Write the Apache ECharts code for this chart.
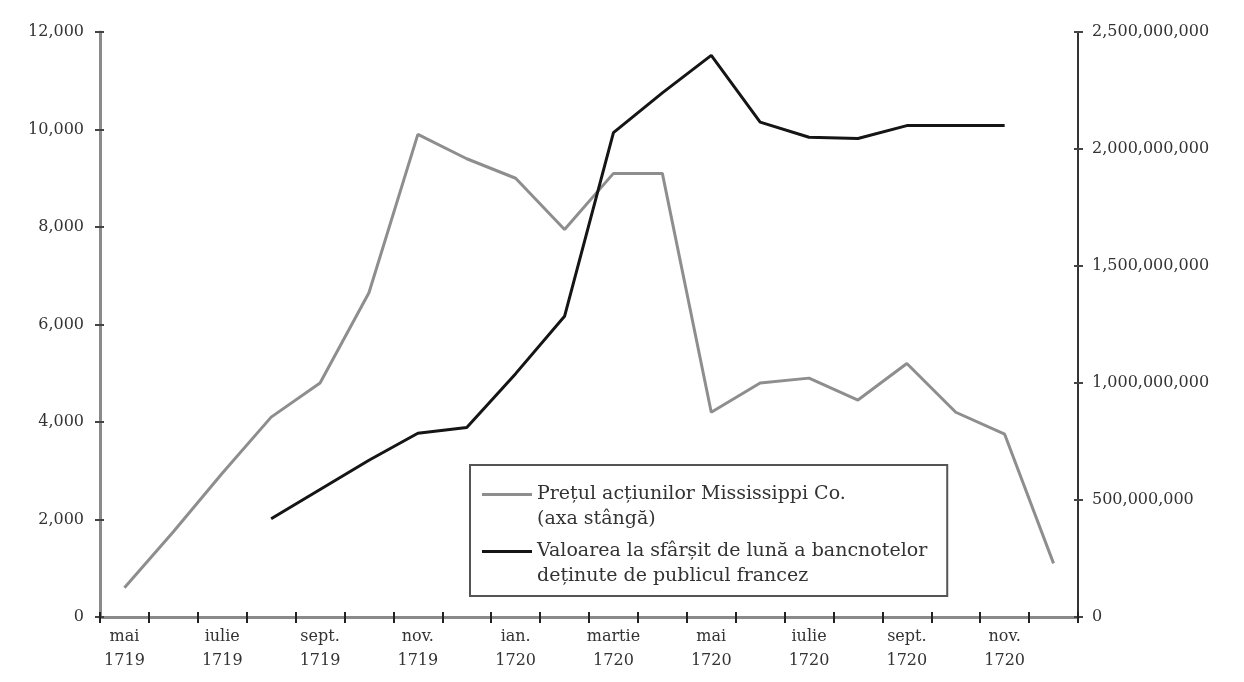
<!DOCTYPE html>
<html>
<head>
<meta charset="utf-8">
<script src="https://cdn.jsdelivr.net/npm/echarts@6/dist/echarts.min.js"></script>
<style>
html,body{margin:0;padding:0;background:#fff;}
#chart{width:1244px;height:682px;}
</style>
</head>
<body>
<div id="chart"></div>
<script>
// Categories: months May 1719 – Dec 1720
var months = ["mai\n1719","iunie\n1719","iulie\n1719","aug.\n1719","sept.\n1719","oct.\n1719","nov.\n1719","dec.\n1719",
              "ian.\n1720","feb.\n1720","martie\n1720","apr.\n1720","mai\n1720","iunie\n1720","iulie\n1720","aug.\n1720",
              "sept.\n1720","oct.\n1720","nov.\n1720","dec.\n1720"];
// Share price of Mississippi Co. (left axis, livres)
var sharePrice = [600,1750,2950,4100,4800,6650,9900,9400,9000,7950,9100,9100,4200,4800,4900,4450,5200,4200,3750,1100];
// Month-end value of banknotes held by the French public (right axis, millions of livres)
var banknotes = [null,null,null,420,545,670,785,810,1040,1285,2070,2240,2400,2115,2050,2045,2100,2100,2100,null];
var seriesNames = ["Prețul acțiunilor Mississippi Co.\n(axa stângă)",
                   "Valoarea la sfârșit de lună a bancnotelor\ndeținute de publicul francez"];
var leftAxis = {min:0, max:12000, interval:2000};
var rightAxis = {min:0, max:2500, interval:500};

var FONT = "'DejaVu Serif','Liberation Serif',serif";
var fmtLeft = function(v){ return Number(v).toLocaleString('en-US'); };
var fmtRight = function(v){ return (v*1e6).toLocaleString('en-US'); };

var chart = echarts.init(document.getElementById('chart'), null, {renderer:'canvas'});
var iconPath = 'path://M0,0h0.05v0.05h-0.05z M0,11h50v3h-50z M49.95,49.95h0.05v0.05h-0.05z';

chart.setOption({
  backgroundColor:'#fff',
  animation:false,
  grid:{left:100, right:166, top:32, bottom:65, containLabel:false},
  legend:{
    orient:'vertical', left:470, top:465,
    padding:[17,20,7,12],
    borderColor:'#555', borderWidth:2, backgroundColor:'#fff',
    itemWidth:50, itemHeight:50, itemGap:7,
    icon:iconPath,
    itemStyle:{borderWidth:0},
    textStyle:{fontFamily:FONT, fontSize:19, lineHeight:25, color:'#333'},
    data:seriesNames
  },
  xAxis:[
    {type:'category', data:months, position:'bottom', boundaryGap:true,
     axisLine:{show:true, lineStyle:{color:'#8a8a8a', width:3}},
     axisTick:{show:true, inside:false, length:6, interval:0, lineStyle:{color:'#222', width:2}},
     axisLabel:{interval:1, margin:8, fontFamily:FONT, fontSize:16, lineHeight:24, color:'#333'},
     splitLine:{show:false}},
    {type:'category', data:months, position:'bottom', boundaryGap:true,
     axisLine:{show:false},
     axisTick:{show:true, inside:true, length:5, interval:0, lineStyle:{color:'#222', width:2}},
     axisLabel:{show:false}, splitLine:{show:false}}
  ],
  yAxis:[
    {type:'value', position:'left', min:leftAxis.min, max:leftAxis.max, interval:leftAxis.interval,
     axisLine:{show:true, lineStyle:{color:'#8a8a8a', width:3}},
     axisTick:{show:true, inside:false, length:5, lineStyle:{color:'#444', width:2}},
     axisLabel:{margin:16, formatter:fmtLeft, fontFamily:FONT, fontSize:16, color:'#333'},
     splitLine:{show:false}},
    {type:'value', position:'right', min:rightAxis.min, max:rightAxis.max, interval:rightAxis.interval,
     axisLine:{show:true, lineStyle:{color:'#333', width:2}},
     axisTick:{show:true, inside:false, length:5, lineStyle:{color:'#444', width:2}},
     axisLabel:{margin:14, formatter:fmtRight, fontFamily:FONT, fontSize:16, color:'#333'},
     splitLine:{show:false}},
    {type:'value', position:'left', min:leftAxis.min, max:leftAxis.max, interval:leftAxis.interval,
     axisLine:{show:false},
     axisTick:{show:true, inside:true, length:4, lineStyle:{color:'#444', width:2}},
     axisLabel:{show:false}, splitLine:{show:false}},
    {type:'value', position:'right', min:rightAxis.min, max:rightAxis.max, interval:rightAxis.interval,
     axisLine:{show:false},
     axisTick:{show:true, inside:true, length:4, lineStyle:{color:'#444', width:2}},
     axisLabel:{show:false}, splitLine:{show:false}}
  ],
  series:[
    {name:seriesNames[0], type:'line', xAxisIndex:0, yAxisIndex:0, data:sharePrice,
     symbol:'none', color:'#8e8e8e', lineStyle:{color:'#8e8e8e', width:3}, z:2},
    {name:seriesNames[1], type:'line', xAxisIndex:0, yAxisIndex:1, data:banknotes,
     symbol:'none', color:'#151515', lineStyle:{color:'#151515', width:3}, z:3}
  ]
});
</script>
</body>
</html>
